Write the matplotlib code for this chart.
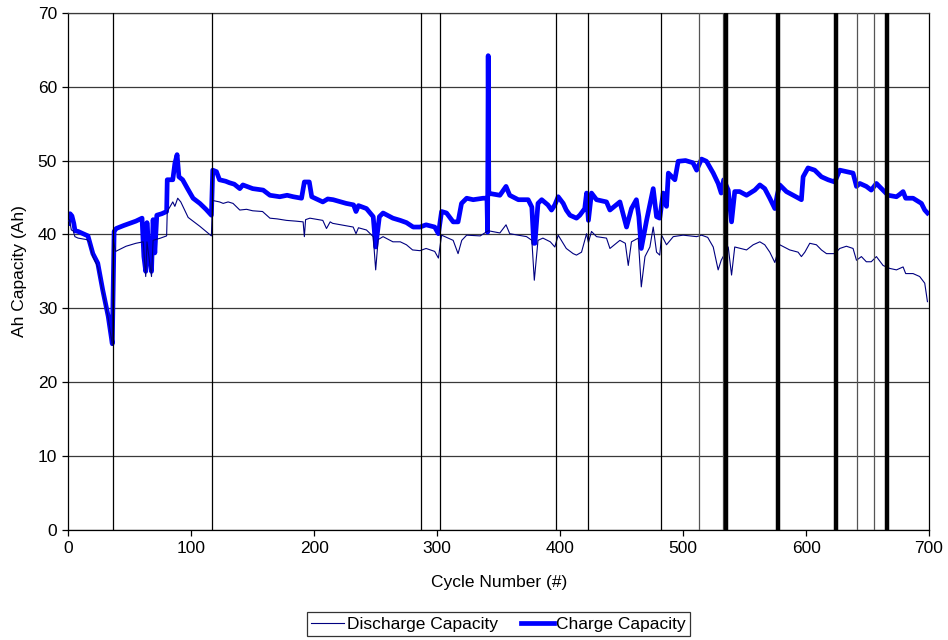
import matplotlib
matplotlib.use("Agg")
import matplotlib.pyplot as plt

plt.rcParams['font.family'] = ['Liberation Sans', 'DejaVu Sans']

# Charge capacity per cycle (Ah)
charge_cycles = [0, 1.5, 3, 4.5, 5.5, 8, 12, 16, 20, 24, 28, 32.5, 35.8, 37.3, 39, 45, 50, 55, 60,
                 61.5, 63, 64, 65.8, 67.7, 69, 70.4, 72, 76, 80, 80.5, 85, 86.7, 88.5, 90, 93, 97,
                 101.5, 107, 112, 116.4, 117.5, 120.5, 123, 128, 131, 135, 139.5, 142, 150, 158.5,
                 164, 172, 178, 183, 189.7, 192, 196, 198, 207, 211, 215.4, 226, 232, 234, 236,
                 242.5, 248, 250, 253, 256, 264, 270, 275, 280.5, 286, 291, 298, 301, 303.6, 307.6,
                 313, 317, 319.8, 324, 329.3, 337.4, 340.5, 341, 341.5, 342, 344.2, 351, 356, 359,
                 366, 374, 377, 378.5, 379.5, 382, 385, 390, 393, 395.7, 398.4, 402.5, 405, 408,
                 410.6, 413.3, 416, 420, 421.5, 423, 425.5, 429.6, 437.7, 440.5, 448.6, 454, 458,
                 462, 464, 466, 470.3, 475.7, 478.4, 481, 483.8, 486.5, 488, 493.3, 496, 502, 508,
                 511, 515, 519, 524.5, 528.5, 531, 533, 536.7, 539.4, 542, 546, 551.6, 558.3, 562.4,
                 566.4, 570.5, 574.6, 576.5, 578.6, 584, 589.5, 596.2, 597.6, 601.6, 607, 612.5,
                 617.9, 623.3, 627.4, 632.8, 638.2, 641, 643.7, 649, 653, 657.2, 662.6, 666.7,
                 673.5, 676, 678.9, 681, 687, 693.8, 696.5, 698.7]
charge_ah = [41.5, 42.8, 42.5, 41.5, 40.5, 40.4, 40.1, 39.8, 37.4, 36.1, 32.5, 28.9, 25.2, 40.4, 40.8,
             41.2, 41.5, 41.8, 42.2, 37.0, 35.0, 41.6, 37.0, 35.0, 42.0, 37.5, 42.6, 42.8, 43.1, 47.4,
             47.4, 49.6, 50.8, 47.8, 47.4, 46.2, 44.9, 44.2, 43.4, 42.6, 48.7, 48.5, 47.4, 47.2, 47.0,
             46.8, 46.2, 46.7, 46.2, 46.0, 45.3, 45.1, 45.3, 45.1, 44.9, 47.1, 47.1, 45.1, 44.4, 44.8,
             44.7, 44.2, 44.0, 43.1, 43.9, 43.5, 42.4, 38.3, 42.4, 42.9, 42.2, 41.9, 41.6, 41.0, 41.0,
             41.3, 41.0, 40.1, 43.1, 42.9, 41.7, 41.7, 44.2, 44.9, 44.7, 44.9, 44.9, 40.3, 64.2, 45.5,
             45.5, 45.3, 46.5, 45.3, 44.7, 44.7, 43.7, 38.8, 38.8, 44.2, 44.7, 44.0, 43.3, 44.0, 45.1,
             44.2, 43.3, 42.6, 42.4, 42.2, 42.6, 43.5, 45.6, 41.9, 45.6, 44.7, 44.4, 43.3, 44.4, 41.0,
             43.5, 44.7, 42.4, 38.1, 41.9, 46.2, 42.4, 42.2, 45.6, 43.8, 48.3, 47.4, 49.9, 50.0, 49.7,
             48.7, 50.2, 49.9, 48.3, 46.9, 45.6, 47.4, 46.0, 41.7, 45.8, 45.8, 45.3, 46.0, 46.7, 46.2,
             44.9, 43.5, 45.3, 46.7, 45.8, 45.3, 44.7, 47.8, 49.0, 48.7, 47.8, 47.4, 47.1, 48.7, 48.5,
             48.3, 46.5, 46.9, 46.5, 46.0, 46.9, 46.0, 45.3, 45.1, 45.4, 45.8, 44.9, 44.9, 44.2, 43.3,
             42.9]

# Discharge capacity per cycle (Ah)
discharge_cycles = [0, 1, 2.5, 4, 5.4, 8, 15, 17, 20, 24, 28, 32.5, 35.8, 36.5, 38.5, 47, 55, 61, 62,
                    63, 64, 66, 67.7, 69, 75, 80, 80.5, 85, 86.7, 89, 91.5, 97.5, 107, 112, 116.4,
                    117.3, 123, 126, 130, 134, 139.5, 145, 150, 158, 164, 170, 177.5, 185, 191, 192,
                    193, 196.5, 207, 210, 213, 215, 225, 231.7, 234, 236, 242.5, 248, 250, 252, 256,
                    264, 270, 275, 280, 286, 291, 298, 301, 303.6, 313, 317, 320, 324, 335, 341.5,
                    351, 356, 359, 372.7, 377, 379, 382, 386, 392, 395.7, 398.4, 405, 410.6, 413.3,
                    417.4, 421.5, 423, 425.5, 429.6, 437.7, 440.5, 448.6, 453, 455.4, 458, 463.5, 466,
                    469, 473, 475.7, 478.4, 481, 482.5, 486.5, 492, 500, 511, 515, 520, 524.5, 528.5,
                    531, 536.7, 539.4, 542, 551.6, 557, 562.4, 566.4, 570.5, 574.6, 578.6, 586.7,
                    593.5, 596.2, 599, 603, 608.4, 612.5, 616.6, 623.3, 627.4, 632.8, 638.2, 641, 645,
                    649, 653, 657.2, 662.6, 668, 673.5, 678.9, 681, 687, 692.4, 696.5, 698.7]
discharge_ah = [41.8, 42.0, 40.6, 40.5, 39.7, 39.5, 39.3, 39.0, 37.0, 35.6, 32.3, 28.7, 25.0, 39.3,
                37.7, 38.4, 38.8, 39.0, 36.5, 34.3, 39.0, 36.5, 34.3, 39.2, 39.5, 39.8, 43.1, 44.4,
                43.8, 44.9, 44.4, 42.3, 41.1, 40.4, 39.8, 44.6, 44.4, 44.2, 44.4, 44.2, 43.3, 43.4,
                43.2, 43.1, 42.2, 42.1, 41.9, 41.8, 41.7, 39.7, 42.0, 42.2, 41.9, 40.8, 41.7, 41.5,
                41.2, 41.0, 40.1, 40.9, 40.6, 39.7, 35.2, 39.3, 39.7, 39.0, 39.0, 38.6, 37.9, 37.8,
                38.1, 37.7, 36.8, 39.9, 39.2, 37.4, 39.2, 39.9, 39.8, 40.5, 40.2, 41.3, 40.1, 39.7,
                39.2, 33.8, 39.2, 39.5, 39.0, 38.3, 39.9, 38.1, 37.4, 37.2, 37.6, 40.1, 38.9, 40.4,
                39.7, 39.5, 38.1, 39.2, 38.8, 35.8, 39.0, 39.5, 32.9, 37.0, 38.3, 41.0, 37.6, 37.2,
                39.9, 38.6, 39.7, 39.9, 39.7, 39.9, 39.6, 38.3, 35.2, 36.5, 38.3, 34.5, 38.3, 37.9,
                38.6, 39.0, 38.6, 37.6, 36.2, 38.6, 37.9, 37.6, 37.0, 37.6, 38.8, 38.6, 37.9, 37.4,
                37.4, 38.1, 38.4, 38.1, 36.5, 37.0, 36.3, 36.3, 37.0, 35.8, 35.4, 35.2, 35.6, 34.7,
                34.7, 34.3, 33.4, 30.9]

# Cycle markers drawn as vertical lines
thin_markers = [36.6, 117, 287, 302, 397, 423, 482]
grey_markers = [512.8, 532.5, 641.8, 655.6]
thick_markers = [535, 577, 624.7, 665.5]

x_ticks = [0, 100, 200, 300, 400, 500, 600, 700]
y_ticks = [0, 10, 20, 30, 40, 50, 60, 70]

FS = 12.5

fig = plt.figure(figsize=(9.48, 6.4), dpi=100)
ax = fig.add_axes([0.072, 0.172, 0.908, 0.808])

ax.plot(discharge_cycles, discharge_ah, color='#000080', lw=0.8,
        label='Discharge Capacity', zorder=3)
ax.plot(charge_cycles, charge_ah, color='#0000FF', lw=3.4,
        label='Charge Capacity', zorder=2, solid_joinstyle='round')

for c in thin_markers:
    ax.axvline(c, color='black', lw=0.9, zorder=4)
for c in grey_markers:
    ax.axvline(c, color='#555555', lw=0.9, zorder=4)
for c in thick_markers:
    ax.axvline(c, color='black', lw=3.2, zorder=4)

ax.set_xlim(0, 700)
ax.set_ylim(0, 70)
ax.set_xticks(x_ticks)
ax.set_yticks(y_ticks)
ax.yaxis.grid(True, color='#3a3a3a', lw=0.9)
ax.set_axisbelow(True)
ax.tick_params(axis='both', direction='out', length=4, width=0.9, labelsize=FS,
               colors='black', pad=4)

ax.spines['left'].set_color('black')
ax.spines['bottom'].set_color('black')
ax.spines['right'].set_color('black')
ax.spines['top'].set_color('#3a3a3a')
for s in ax.spines.values():
    s.set_linewidth(0.9)

ax.set_xlabel('Cycle Number (#)', fontsize=FS, labelpad=14)
ax.set_ylabel('Ah Capacity (Ah)', fontsize=FS, labelpad=8)

leg = fig.legend(loc='center', bbox_to_anchor=(0.526, 0.025), ncol=2, fontsize=FS,
                 frameon=True, fancybox=False, edgecolor='black', handlelength=1.9,
                 handletextpad=0.15, columnspacing=1.3, borderpad=0.25, borderaxespad=0.2)
leg.get_frame().set_linewidth(0.9)

fig.savefig('out.png', dpi=100)
